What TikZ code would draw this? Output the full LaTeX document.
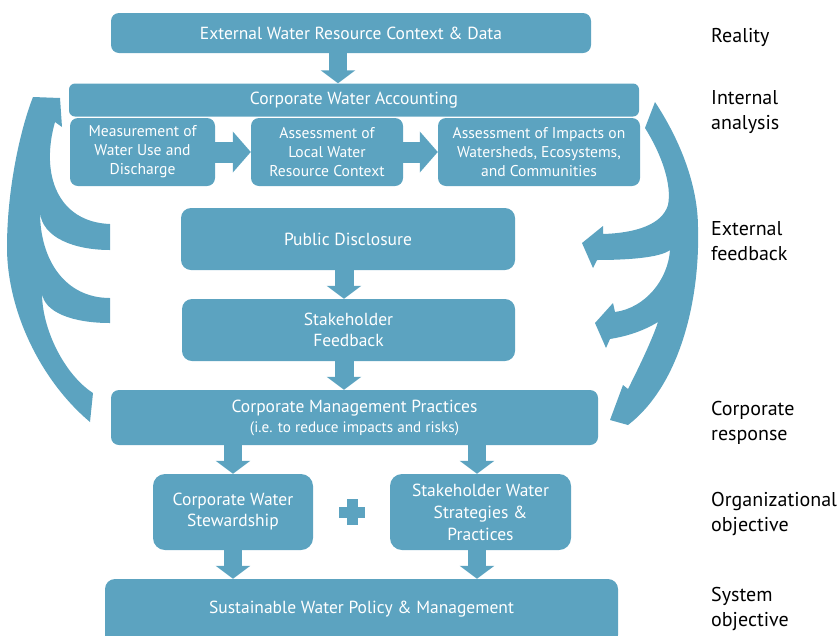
\documentclass[tikz,border=0pt]{standalone}
\usepackage{fontspec}
\setmainfont{PT Sans}
\usetikzlibrary{arrows.meta,calc}
\definecolor{wc}{RGB}{92,163,192}
\begin{document}
\begin{tikzpicture}[x=1pt,y=-1pt,
  box/.style={fill=wc,text=white,rounded corners=8pt,inner sep=0pt,align=center,font=\fontsize{17.5}{21}\selectfont},
  sub/.style={box,font=\fontsize{15.6}{19}\selectfont},
  lbl/.style={anchor=west,align=left,inner sep=0pt,font=\fontsize{20}{25}\selectfont},
  dn/.style={line width=19pt,wc,-{Triangle[width=34pt,length=13pt]}},
  rt/.style={line width=21pt,wc,-{Triangle[width=40pt,length=18pt]}},
]
\useasboundingbox (0,0) rectangle (837,635);
% boxes
\node[box,minimum width=480pt,minimum height=40pt] (ext) at (351,33) {External Water Resource Context \& Data};
\node[box,rounded corners=6pt,minimum width=570pt,minimum height=33pt] (cwa) at (354,100) {Corporate Water Accounting};
\node[sub,minimum width=145pt,minimum height=68pt] (m1) at (142.5,152) {Measurement of\\Water Use and\\Discharge};
\node[sub,minimum width=152pt,minimum height=68pt] (m2) at (327,152) {Assessment of\\Local Water\\Resource Context};
\node[sub,minimum width=202pt,minimum height=68pt] (m3) at (539,152) {Assessment of Impacts on\\Watersheds, Ecosystems,\\and Communities};
\node[box,rounded corners=10pt,minimum width=334pt,minimum height=62pt] (pd) at (348,239) {Public Disclosure};
\node[box,rounded corners=10pt,minimum width=333pt,minimum height=62pt] (sf) at (348.5,330) {Stakeholder\\Feedback};
\node[box,minimum width=487pt,minimum height=55pt,font=\fontsize{17.5}{20}\selectfont] (cmp) at (354.5,417.5) {Corporate Management Practices\\{\fontsize{15.2}{20}\selectfont(i.e. to reduce impacts and risks)}};
\node[box,rounded corners=12pt,minimum width=160pt,minimum height=76pt] (cws) at (233,512) {Corporate Water\\Stewardship};
\node[box,rounded corners=12pt,minimum width=181pt,minimum height=76pt,font=\fontsize{17.5}{22}\selectfont] (sws) at (480.5,512) {Stakeholder Water\\Strategies \&\\Practices};
\node[box,rounded corners=10pt,minimum width=513pt,minimum height=66pt,text depth=0pt] (swp) at (361.5,612) {};
\node[text=white,font=\fontsize{17.5}{21}\selectfont,inner sep=0pt] (swpt) at (361.5,609) {Sustainable Water Policy \& Management};
% plus
\coordinate (plus) at (352,512);
\fill[wc] ($(plus)+(-13,-5.5)$) rectangle ($(plus)+(13,5.5)$);
\fill[wc] ($(plus)+(-5.5,-13)$) rectangle ($(plus)+(5.5,13)$);
% block arrows
\draw[dn,line width=18pt] (ext.south -| 338,0) -- (cwa.north -| 338,0);
\draw[rt] (m1.east) -- (m2.west);
\draw[rt] (m2.east) -- (m3.west);
\draw[dn] (pd.south -| 344,0) -- (sf.north -| 344,0);
\draw[dn] (sf.south -| 344,0) -- (cmp.north -| 344,0);
\draw[dn,line width=18pt] (cmp.south -| cws.north) -- (cws.north);
\draw[dn,line width=18pt] (cmp.south -| 477,0) -- (sws.north -| 477,0);
\draw[dn,line width=18pt] (cws.south) -- (swp.north -| cws.south);
\draw[dn,line width=18pt] (sws.south -| 477,0) -- (swp.north -| 477,0);
% left curved arrows
\fill[wc] (60,98) -- (62,127) -- (55,122)
  .. controls (40,175) and (58,222) .. (110,224)
  -- (110,250)
  .. controls (75,250) and (42,238) .. (40,212)
  .. controls (40,260) and (65,298) .. (110,298)
  -- (110,323)
  .. controls (72,323) and (44,312) .. (42,293)
  .. controls (42,330) and (65,375) .. (93,393)
  -- (90,422)
  .. controls (40,380) and (7,310) .. (7,247)
  .. controls (7,190) and (20,130) .. (33,97)
  -- cycle;
% right curved arrows
\fill[wc] (655,102)
  .. controls (680,140) and (698,185) .. (698,228)
  .. controls (700,300) and (680,385) .. (628,425)
  -- (610,420) -- (623,385) -- (628,389)
  .. controls (640,365) and (652,340) .. (658,322)
  .. controls (640,333) and (622,337) .. (610,339)
  -- (606,348) -- (595,323) -- (613,303) -- (615,312)
  .. controls (645,308) and (668,280) .. (670,250)
  .. controls (660,258) and (625,260) .. (597,260)
  -- (593,268) -- (582,243) -- (603,226) -- (603,234)
  .. controls (635,233) and (662,225) .. (668,205)
  .. controls (672,185) and (662,155) .. (645,128)
  -- cycle;
% labels
\node[lbl] (l1) at (711,37) {Reality};
\node[lbl] (l2) at (711,112.5) {Internal\\analysis};
\node[lbl] (l3) at (711,241) {External\\feedback};
\node[lbl] (l4) at (711,422.5) {Corporate\\response};
\node[lbl] (l5) at (711,513.5) {Organizational\\objective};
\node[lbl] (l6) at (711,608.5) {System\\objective};
\end{tikzpicture}
\end{document}
